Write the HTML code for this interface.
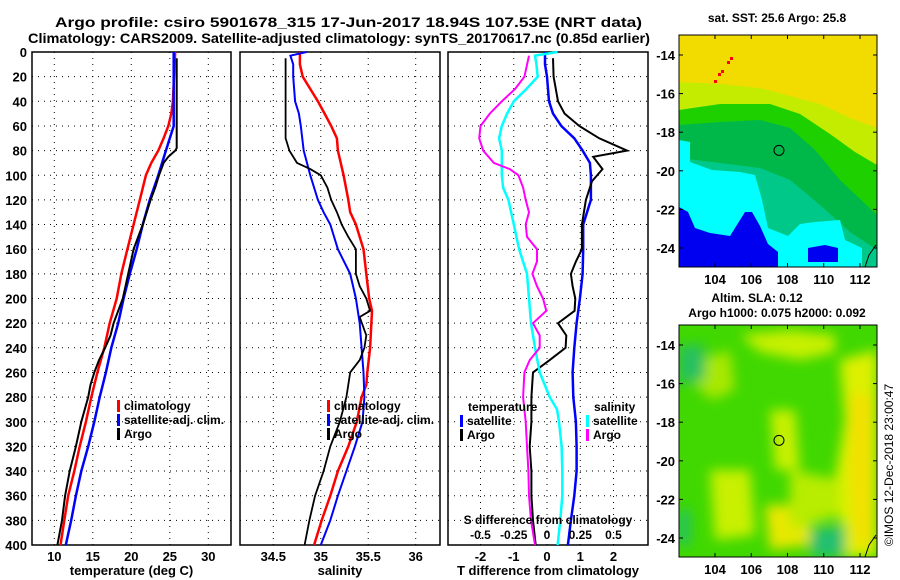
<!DOCTYPE html>
<html><head><meta charset="utf-8"><style>
html,body{margin:0;padding:0;background:#fff;}
svg{display:block;font-family:"Liberation Sans",sans-serif;font-weight:bold;}
</style></head><body>
<svg id="fig" width="900" height="580" viewBox="0 0 900 580" xmlns="http://www.w3.org/2000/svg">
<text x="55" y="27" font-size="14" textLength="587" lengthAdjust="spacingAndGlyphs">Argo profile: csiro 5901678_315 17-Jun-2017 18.94S 107.53E (NRT data)</text>
<text x="28" y="43" font-size="14" textLength="622" lengthAdjust="spacingAndGlyphs">Climatology: CARS2009. Satellite-adjusted climatology: synTS_20170617.nc (0.85d earlier)</text>
<g id="maps"></g>
<g id="panels"></g>
</svg>
<script>
// ---- Data ----
const depthTicks=[0,20,40,60,80,100,120,140,160,180,200,220,240,260,280,300,320,340,360,380,400];
const tempTicks=[10,15,20,25,30];
const salTicks=[34.5,35,35.5,36];
const tdiffTicks=[-2,-1,0,1,2];
const sdiffTicks=[-0.5,-0.25,0,0.25,0.5];
const sdiffLabels=["-0.5","-0.25","0","0.25","0.5"];

const climD=[0,40,50,60,70,80,90,100,120,140,160,180,200,220,240,260,280,300,320,340,360,380,400];
const climT=[25.7,25.4,25.2,24.8,24.2,23.5,22.6,21.9,21.1,20.3,19.5,18.7,18.1,17.2,16.5,15.6,14.8,14.1,13.3,12.6,11.8,11.3,10.8];
const satD=[0,60,70,80,90,100,120,140,160,180,200,220,240,260,280,300,320,340,360,380,400];
const satT=[25.5,25.5,25.0,24.5,24.0,23.5,22.4,21.5,20.7,19.8,19.0,18.3,17.4,16.7,15.9,15.2,14.4,13.5,12.8,12.2,11.5];
const argoD=[5,78,80,85,90,100,110,120,140,160,180,200,210,220,230,240,250,260,270,280,300,320,340,360,380,400];
const argoT=[25.9,25.9,25.7,24.8,24.2,23.6,23.1,22.5,21.5,20.3,19.6,18.9,18.3,17.7,17.3,16.6,15.8,15.2,14.7,14.4,13.5,12.8,12.0,11.4,11.0,10.4];

const climSD=[0,10,20,30,40,50,60,70,80,100,120,130,140,150,160,180,200,210,240,260,270,280,300,320,340,360,380,400];
const climS=[34.78,34.78,34.81,34.89,34.97,35.04,35.11,35.17,35.18,35.24,35.29,35.31,35.37,35.41,35.45,35.48,35.51,35.54,35.52,35.49,35.48,35.43,35.38,35.29,35.18,35.10,35.01,34.93];
const satSD=[0,3,10,20,40,50,60,80,100,120,130,140,160,180,200,220,240,260,280,300,320,340,360,380,400];
const satS=[34.85,34.68,34.71,34.71,34.73,34.77,34.79,34.82,34.89,34.97,35.03,35.10,35.18,35.31,35.37,35.41,35.43,35.45,35.46,35.44,35.36,35.27,35.18,35.10,35.00];
const argoSD=[5,70,75,80,90,95,100,110,120,130,140,150,160,180,190,200,210,215,230,240,250,260,270,280,300,320,340,360,380,400];
const argoS=[34.63,34.63,34.65,34.67,34.75,34.89,35.00,35.07,35.11,35.17,35.22,35.29,35.37,35.37,35.41,35.48,35.52,35.41,35.48,35.46,35.41,35.31,35.29,35.27,35.20,35.10,35.03,34.94,34.88,34.83];

const tSatD=[0,10,20,40,50,60,70,80,90,100,120,140,160,180,200,220,240,260,280,300,320,340,360,380,400];
const tSat=[-0.06,-0.06,0,0.06,0.18,0.43,0.82,1.07,1.29,1.32,1.32,1.09,1.09,1.07,0.99,0.89,0.82,0.77,0.79,0.87,0.89,0.89,0.82,0.72,0.63];
const tArgoD=[5,20,40,50,60,70,80,85,95,105,120,140,160,170,180,190,200,210,220,230,240,250,260,280,300,320,340,360,380,400];
const tArgo=[0.18,0.2,0.33,0.53,0.97,1.57,2.41,1.39,1.67,1.35,1.17,1.05,1.05,0.87,0.72,0.77,0.85,0.83,0.33,0.58,0.56,0.08,-0.42,-0.47,-0.47,-0.52,-0.47,-0.47,-0.42,-0.34];
const sSatD=[0,3,10,20,30,40,50,60,70,80,100,110,120,140,160,180,200,220,240,260,280,290,300,320,340,360,380,400];
const sSat=[0.08,-0.09,-0.08,-0.07,-0.155,-0.25,-0.30,-0.34,-0.36,-0.34,-0.34,-0.33,-0.29,-0.25,-0.21,-0.15,-0.135,-0.12,-0.09,-0.055,0.02,0.075,0.09,0.11,0.115,0.115,0.10,0.08];
const sArgoD=[3,20,30,40,50,60,70,80,90,95,100,110,120,130,140,150,160,170,180,190,200,210,220,230,240,250,260,280,300,320,340,360,380,400];
const sArgo=[-0.135,-0.17,-0.24,-0.34,-0.43,-0.50,-0.51,-0.48,-0.40,-0.28,-0.215,-0.18,-0.16,-0.135,-0.16,-0.15,-0.075,-0.075,-0.11,-0.075,-0.03,-0.005,-0.105,-0.055,-0.055,-0.13,-0.17,-0.18,-0.16,-0.15,-0.14,-0.135,-0.12,-0.09];

const lonTicks=[104,106,108,110,112];
const latTicks=[-14,-16,-18,-20,-22,-24];
const argoLon=[107.53];
const argoLat=[-18.94];

// ---- helpers ----
const NS="http://www.w3.org/2000/svg";
function mk(tag,attrs,parent){const e=document.createElementNS(NS,tag);for(const k in attrs)e.setAttribute(k,attrs[k]);parent.appendChild(e);return e;}
const panels=document.getElementById('panels');
const Y0=52,Y1=545;
const yScale=d=>Y0+(d/400)*(Y1-Y0);
function lin(d0,d1,r0,r1){return v=>r0+(v-d0)/(d1-d0)*(r1-r0);}

function drawPanel(name,x0,x1,xs,xt,xlabels,xtitle){
  const g=mk('g',{},panels);
  
  
  depthTicks.forEach(d=>{
    if(d===0||d===400)return;
    const l=mk('line',{x1:x0,x2:x1,y1:yScale(d),y2:yScale(d),stroke:'#000','stroke-width':1,'stroke-dasharray':'1,5'},g);
    
    
  });
  xt.forEach((v,i)=>{
    const x=xs(v);
    const l=mk('line',{x1:x,x2:x,y1:Y0,y2:Y1,stroke:'#000','stroke-width':1,'stroke-dasharray':'1,5'},g);
    
    
    const t=mk('text',{x:x,y:Y1+16,'font-size':13,'text-anchor':'middle'},g);
    t.textContent=xlabels[i];
    
    
  });
  const f=mk('rect',{x:x0,y:Y0,width:x1-x0,height:Y1-Y0,fill:'none',stroke:'#000','stroke-width':1.5},g);
  
  
  const tt=mk('text',{x:(x0+x1)/2,y:575,'font-size':13,'text-anchor':'middle'},g);
  tt.textContent=xtitle;
  
  
  return g;
}
function drawLine(g,name,xs,vals,depths,color,w){
  const pts=vals.map((v,i)=>xs(v).toFixed(1)+','+yScale(depths[i]).toFixed(1)).join(' ');
  const p=mk('polyline',{points:pts,fill:'none',stroke:color,'stroke-width':w,'stroke-linejoin':'miter'},g);
  
  
}
function legend(g,name,x,y,label,color){
  const r=mk('rect',{x:x,y:y-10,width:3,height:12,fill:color},g);
  
  
  const t=mk('text',{x:x+7,y:y,'font-size':12},g);
  t.textContent=label;
  
  
}

depthTicks.forEach(d=>{
  const t=mk('text',{x:27,y:yScale(d)+5,'font-size':13,'text-anchor':'end'},panels);
  t.textContent=String(d);
  
  
});

const xT=lin(10,30,54.3,208.3);
const g1=drawPanel('temperature-panel',32,231,xT,tempTicks,tempTicks.map(String),'temperature (deg C)');
drawLine(g1,'temperature-climatology',xT,climT,climD,'#ff0000',2.5);
drawLine(g1,'temperature-satellite-adj',xT,satT,satD,'#0000ff',2.5);
drawLine(g1,'temperature-argo',xT,argoT,argoD,'#000',2);
legend(g1,'legend-climatology',117,410,'climatology','#ff0000');
legend(g1,'legend-satellite-adj',117,424,'satellite-adj. clim.','#0000ff');
legend(g1,'legend-argo',117,438,'Argo','#000');

const xS=lin(34.5,36,273.3,415.7);
const g2=drawPanel('salinity-panel',240,440,xS,salTicks,salTicks.map(String),'salinity');
drawLine(g2,'salinity-climatology',xS,climS,climSD,'#ff0000',2.5);
drawLine(g2,'salinity-satellite-adj',xS,satS,satSD,'#0000ff',2);
drawLine(g2,'salinity-argo',xS,argoS,argoSD,'#000',1.8);
legend(g2,'legend-sal-climatology',327,410,'climatology','#ff0000');
legend(g2,'legend-sal-satellite-adj',327,424,'satellite-adj. clim.','#0000ff');
legend(g2,'legend-sal-argo',327,438,'Argo','#000');

const xD=lin(-2,2,480.5,613.5);
const xSD=v=>xD(v*4);
const g3=drawPanel('difference-panel',448,648,xD,tdiffTicks,tdiffTicks.map(String),'T difference from climatology');
drawLine(g3,'tdiff-satellite',xD,tSat,tSatD,'#0000ff',2.5);
drawLine(g3,'tdiff-argo',xD,tArgo,tArgoD,'#000',2);
drawLine(g3,'sdiff-satellite',xSD,sSat,sSatD,'#00ffff',2.5);
drawLine(g3,'sdiff-argo',xSD,sArgo,sArgoD,'#ff00ff',2);
{
  const t=mk('text',{x:468,y:411,'font-size':12},g3);t.textContent='temperature';
  
  
  const s=mk('text',{x:594,y:411,'font-size':12},g3);s.textContent='salinity';
  
  
}
legend(g3,'legend-tdiff-satellite',460,425,'satellite','#0000ff');
legend(g3,'legend-tdiff-argo',460,439,'Argo','#000');
legend(g3,'legend-sdiff-satellite',586,425,'satellite','#00ffff');
legend(g3,'legend-sdiff-argo',586,439,'Argo','#ff00ff');
{
  const t=mk('text',{x:548,y:524,'font-size':12,'text-anchor':'middle'},g3);t.textContent='S difference from climatology';
  
  
  sdiffTicks.forEach((v,i)=>{
    const l=mk('text',{x:xSD(v),y:539,'font-size':12,'text-anchor':'middle'},g3);l.textContent=sdiffLabels[i];
    
    
  });
}

// ---- Maps ----
const maps=document.getElementById('maps');
const MX0=679,MX1=877;
const lonX=lin(104,112,715,860);
function drawMapFrame(name,top,bottom,latY){
  const g=mk('g',{},maps);
  
  
  const f=mk('rect',{x:MX0,y:top,width:MX1-MX0,height:bottom-top,fill:'none',stroke:'#000','stroke-width':1},g);
  
  
  lonTicks.forEach(v=>{
    mk('line',{x1:lonX(v),x2:lonX(v),y1:bottom,y2:bottom-4,stroke:'#000'},g);
    mk('line',{x1:lonX(v),x2:lonX(v),y1:top,y2:top+4,stroke:'#000'},g);
    const t=mk('text',{x:lonX(v),y:bottom+17,'font-size':13,'text-anchor':'middle'},g);t.textContent=String(v);
    
    
  });
  latTicks.forEach(v=>{
    mk('line',{x1:MX0,x2:MX0+4,y1:latY(v),y2:latY(v),stroke:'#000'},g);
    mk('line',{x1:MX1,x2:MX1-4,y1:latY(v),y2:latY(v),stroke:'#000'},g);
    const t=mk('text',{x:675,y:latY(v)+5,'font-size':13,'text-anchor':'end'},g);t.textContent=String(v);
    
    
  });
  const c=mk('circle',{cx:lonX(argoLon[0]),cy:latY(argoLat[0]),r:5,fill:'none',stroke:'#000','stroke-width':1},g);
  
  
  mk('polyline',{points:`${MX1-1},${bottom-22} ${MX1-8},${bottom-12} ${MX1-12},${bottom}`,fill:'none',stroke:'#000'},g);
  return g;
}
function poly(g,name,pts,fill,filter){
  const p=mk('polygon',{points:pts,fill:fill},g);
  if(filter)p.setAttribute('filter',filter);
  
  
}
{
  const defs=mk('defs',{},maps);
  const cp=mk('clipPath',{id:'clip1'},defs);mk('rect',{x:MX0,y:35,width:MX1-MX0,height:232},cp);
  const cp2=mk('clipPath',{id:'clip2'},defs);mk('rect',{x:MX0,y:325,width:MX1-MX0,height:232},cp2);
  const bl=mk('filter',{id:'blur',filterUnits:'userSpaceOnUse',x:600,y:280,width:300,height:300},defs);mk('feGaussianBlur',{stdDeviation:6},bl);
  const g=mk('g',{'clip-path':'url(#clip1)'},maps);
  
  
  mk('rect',{x:MX0,y:35,width:198,height:232,fill:'#f2dc00'},g);
  poly(g,'sst-yellowgreen','679,82 720,84 760,88 790,96 820,104 850,118 877,128 877,267 679,267','#c4ec00');
  poly(g,'sst-green','679,110 720,104 770,104 800,114 830,134 855,152 877,165 877,267 679,267','#1ed000');
  poly(g,'sst-darkgreen','679,125 720,122 760,120 790,128 815,150 840,180 877,215 877,267 679,267','#00b84a');
  poly(g,'sst-teal','679,158 720,163 760,168 790,180 820,205 850,232 877,250 877,267 679,267','#00c888');
  poly(g,'sst-cyan','679,140 690,142 690,162 712,170 740,172 755,175 762,200 768,228 788,236 800,224 815,222 840,220 845,240 862,248 862,267 679,267','#00ffff');
  poly(g,'sst-blue','679,207 688,212 695,228 710,233 730,236 745,212 752,212 760,226 768,244 778,252 778,267 679,267','#0000f0');
  poly(g,'sst-blue-2','808,248 825,245 838,248 838,262 808,262','#0000f0');
  [[730,57],[727,61],[721,70],[718,73],[714,80]].forEach(p=>{
    const r=mk('rect',{x:p[0],y:p[1],width:3,height:3,fill:'#ff0000'},g);
    
    
  });
}
drawMapFrame('sst-map-axes',35,267,lin(-14,-24,55,248));
{
  const t=mk('text',{x:777,y:22,'font-size':12,'text-anchor':'middle'},maps);t.textContent='sat. SST: 25.6 Argo: 25.8';
  
  
}
{
  const g=mk('g',{'clip-path':'url(#clip2)'},maps);
  
  
  mk('rect',{x:MX0,y:325,width:198,height:232,fill:'#40d800'},g);
  const b=mk('g',{filter:'url(#blur)'},g);
  poly(b,'sla-yellow-right','840,360 877,350 877,557 845,557 835,480 845,420','#dcf000');
  poly(b,'sla-yellow-core','850,395 872,395 872,545 855,545 850,470','#f2e000');
  poly(b,'sla-yg-top','740,335 790,330 835,335 835,352 800,360 760,352','#c8f000');
  poly(b,'sla-yg-left','700,360 730,350 735,390 712,400 695,385','#a8e800');
  poly(b,'sla-yg-mid','770,410 795,410 800,470 775,470','#c8f000');
  poly(b,'sla-yg-bl','710,470 750,470 755,535 715,540','#c8f000');
  poly(b,'sla-yellow-bottom','765,505 810,505 810,545 770,550','#e8e800');
  poly(b,'sla-yg-bottom','790,470 840,480 840,515 790,530','#b8ec00');
  poly(b,'sla-teal-bottom','810,530 845,525 845,557 810,557','#20c070');
  poly(b,'sla-teal-left','679,345 705,345 705,380 679,385','#28c060');
  poly(b,'sla-teal-left2','679,510 690,510 690,545 679,545','#20c070');
}
drawMapFrame('sla-map-axes',325,557,lin(-14,-24,345,538));
{
  const t=mk('text',{x:757,y:302,'font-size':12,'text-anchor':'middle'},maps);t.textContent='Altim. SLA: 0.12';
  
  
  const t2=mk('text',{x:777,y:317,'font-size':12,'text-anchor':'middle'},maps);t2.textContent='Argo h1000: 0.075 h2000: 0.092';
  
  
  const c=mk('text',{x:0,y:0,'font-size':12,'font-weight':'normal','text-anchor':'middle',transform:'translate(893,465) rotate(-90)'},maps);c.textContent='©IMOS 12-Dec-2018 23:00:47';
  
  
}
</script>
</body></html>
